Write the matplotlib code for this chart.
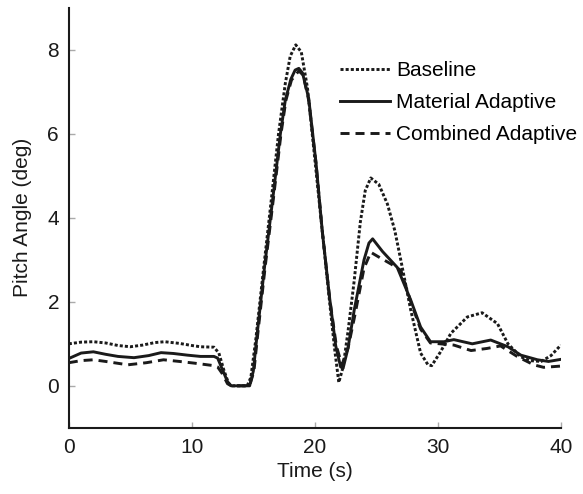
import matplotlib
matplotlib.use("Agg")
import matplotlib.pyplot as plt

plt.rcParams['font.family'] = ['Liberation Sans', 'DejaVu Sans']
plt.rcParams['lines.scale_dashes'] = False

# values (time in s, pitch in deg)
base_t = [0, 1, 2, 3, 4, 5, 6, 7, 7.8, 9, 10, 10.7, 11.8, 12.2, 12.6, 13.0, 13.3,
          14.5, 14.8, 15.2, 15.8, 16.45, 17.05, 17.6, 18.0, 18.45, 18.9, 19.4, 20.0,
          20.6, 21.2, 21.6, 21.95, 22.3, 22.7, 23.2, 23.7, 24.1, 24.55, 25.2, 25.9,
          26.5, 27.0, 27.8, 28.6, 29.2, 29.5, 30.2, 31.06, 32.4, 33.6, 34.85, 35.7,
          36.75, 37.5, 38.4, 39.2, 40]
base_y = [1.0, 1.04, 1.05, 1.02, 0.96, 0.93, 0.97, 1.03, 1.05, 1.01, 0.96, 0.93, 0.92,
          0.78, 0.38, 0.05, 0.0, 0.0, 0.2, 1.1, 2.7, 4.4, 6.0, 7.2, 7.85, 8.12, 7.95,
          7.1, 5.4, 3.7, 2.0, 0.9, 0.08, 0.45, 1.3, 2.5, 3.9, 4.65, 4.95, 4.8, 4.33,
          3.7, 2.98, 1.8, 0.78, 0.5, 0.48, 0.8, 1.25, 1.64, 1.74, 1.48, 1.0, 0.69,
          0.6, 0.58, 0.72, 0.97]

mat_t = [0, 1, 2, 3, 4, 5.3, 6.5, 7.5, 8.5, 9.65, 10.7, 11.8, 12.1, 12.5, 12.9, 13.2,
         14.7, 15.0, 15.3, 15.9, 16.6, 17.2, 17.6, 18.05, 18.4, 18.7, 19.0, 19.5, 20.1,
         20.6, 21.2, 21.7, 22.1, 22.3, 22.7, 23.2, 24.0, 24.4, 24.7, 25.5, 26.7, 27.8,
         28.6, 29.4, 30.5, 31.3, 32.8, 34.3, 35.7, 36.75, 38.1, 39, 40]
mat_y = [0.65, 0.78, 0.81, 0.75, 0.7, 0.67, 0.72, 0.79, 0.77, 0.73, 0.7, 0.7, 0.66,
         0.38, 0.1, 0.0, 0.0, 0.35, 1.2, 2.8, 4.5, 6.0, 6.8, 7.3, 7.52, 7.56, 7.45,
         6.85, 5.3, 3.7, 2.1, 0.95, 0.45, 0.42, 0.9, 1.8, 3.0, 3.4, 3.5, 3.2, 2.82,
         2.04, 1.4, 1.05, 1.05, 1.1, 1.0, 1.09, 0.93, 0.73, 0.62, 0.58, 0.63]

comb_t = [0, 1, 2, 3, 4.8, 6.3, 7.7, 9, 10.2, 11.8, 12.1, 12.5, 12.9, 13.2, 14.7,
          15.05, 15.35, 15.95, 16.65, 17.25, 17.65, 18.1, 18.7, 19.05, 19.5, 20.1,
          20.6, 21.2, 21.75, 22.2, 22.7, 23.2, 24.0, 24.55, 25.3, 26.2, 27.0, 27.8,
          28.6, 29.4, 30.2, 31.3, 32.7, 34.0, 35.1, 36.5, 37.8, 38.6, 40]
comb_y = [0.55, 0.6, 0.62, 0.58, 0.5, 0.55, 0.62, 0.58, 0.54, 0.48, 0.45, 0.28, 0.05,
          0.0, 0.0, 0.35, 1.2, 2.8, 4.5, 6.0, 6.8, 7.28, 7.5, 7.4, 6.8, 5.3, 3.7, 2.1,
          0.95, 0.5, 0.9, 1.6, 2.8, 3.18, 3.05, 2.9, 2.75, 2.0, 1.35, 1.02, 1.0, 0.97,
          0.84, 0.89, 0.95, 0.69, 0.5, 0.44, 0.47]

labels = ["Baseline", "Material Adaptive", "Combined Adaptive"]

fig = plt.figure(figsize=(5.83, 4.94), dpi=100)
ax = fig.add_axes([0.118, 0.134, 0.844, 0.85])

ink = '#1a1a1a'
ax.plot(base_t, base_y, color=ink, lw=2.1, dashes=(2.2, 1.5), label=labels[0])
ax.plot(mat_t, mat_y, color=ink, lw=2.1, label=labels[1])
ax.plot(comb_t, comb_y, color=ink, lw=2.1, dashes=(6.5, 4.3), label=labels[2])

ax.set_xlim(0, 40)
ax.set_ylim(-1, 9)
ax.set_xticks([0, 10, 20, 30, 40])
ax.set_yticks([0, 2, 4, 6, 8])
for s in ['top', 'right']:
    ax.spines[s].set_visible(False)
for s in ['left', 'bottom']:
    ax.spines[s].set_linewidth(1.5)
    ax.spines[s].set_color(ink)
ax.tick_params(direction='in', length=4, width=1, color='#aaaaaa',
               labelsize=15, labelcolor=ink, pad=7)

ax.set_xlabel("Time (s)", fontsize=15, color=ink, labelpad=4)
ax.set_ylabel("Pitch Angle (deg)", fontsize=15, color=ink, labelpad=11)

ax.legend(loc='upper left', bbox_to_anchor=(340 / 583, 1 - 61 / 494),
          bbox_transform=fig.transFigure, frameon=False, fontsize=15,
          handlelength=2.4, handletextpad=0.3, labelspacing=0.62,
          borderpad=0, borderaxespad=0)

fig.savefig("out.png", dpi=100)
